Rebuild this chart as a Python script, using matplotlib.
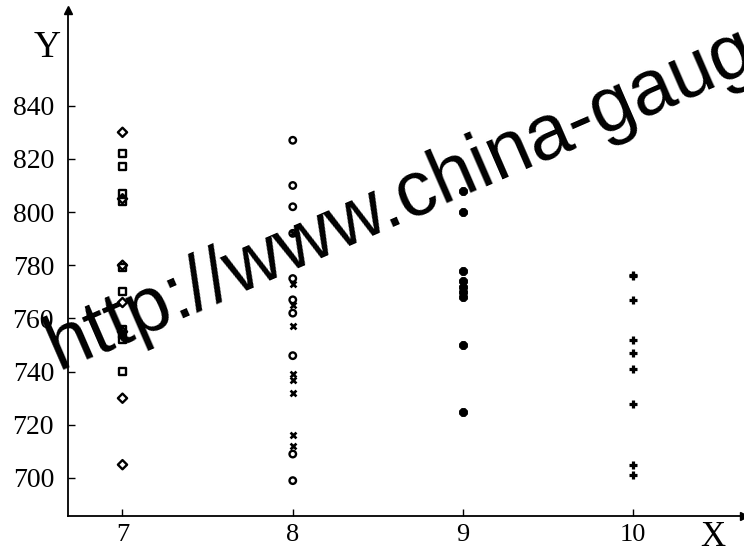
import matplotlib.pyplot as plt

plt.rcParams['font.family'] = ['Liberation Serif', 'DejaVu Serif']

# values
x_ticks = [7, 8, 9, 10]
y_ticks = [700, 720, 740, 760, 780, 800, 820, 840]

diamond_7 = [830, 805, 780, 766, 755, 730, 705]
square_7 = [822, 817, 807, 804, 779, 770, 756, 754, 752, 740]
circle_8 = [827, 810, 802, 792, 775, 767, 762, 746, 709, 699]
cross_8 = [792, 773, 765, 757, 739, 737, 732, 716, 712]
dot_9 = [808, 800, 778, 774, 772, 770, 768, 750, 725]
plus_10 = [776, 776.5, 767, 752, 747, 741, 728, 705, 701]

fig = plt.figure(figsize=(7.44, 5.53), dpi=100)
ax = fig.add_axes([68/744, 37/553, 1 - 68/744, 1 - 47/553])

ax.scatter([7]*len(diamond_7), diamond_7, marker='D', s=22, facecolors='none',
           edgecolors='black', linewidths=1.7)
ax.scatter([7]*len(square_7), square_7, marker='s', s=26, facecolors='none',
           edgecolors='black', linewidths=1.7)
ax.scatter([8]*len(circle_8), circle_8, marker='o', s=22, facecolors='none',
           edgecolors='black', linewidths=1.7)
ax.scatter([8]*len(cross_8), cross_8, marker='x', s=18, color='black', linewidths=1.9)
ax.scatter([9]*len(dot_9), dot_9, marker='8', s=34, color='black')
ax.scatter([10]*len(plus_10), plus_10, marker='+', s=40, color='black', linewidths=2.3)

ax.set_xlim(6.68, 10.65)
ax.set_ylim(685.7, 876)
ax.set_xticks(x_ticks)
ax.set_yticks(y_ticks)
ax.tick_params(direction='in', length=5, width=1, labelsize=20, pad=10)
ax.tick_params(axis='x', labelsize=19, pad=6)

for s in ['top', 'right']:
    ax.spines[s].set_visible(False)
for s in ['left', 'bottom']:
    ax.spines[s].set_linewidth(1.3)

ax.plot(0, 1, marker='^', color='black', markersize=6, transform=ax.transAxes, clip_on=False)
ax.plot(1, 0, marker='>', color='black', markersize=6, transform=ax.transAxes, clip_on=False)

fig.text(47/744, 1 - 48/553, 'Y', fontsize=27, ha='center', va='center')
fig.text(713/744, 1 - 537/553, 'X', fontsize=25, ha='center', va='center')

# watermark
fig.text(58/744, 1 - 370/553, 'http://www.china-gauge.com', fontsize=56, rotation=23.5,
         family='Liberation Sans', ha='left', va='baseline', rotation_mode='anchor')

fig.savefig('out.png', dpi=100)
